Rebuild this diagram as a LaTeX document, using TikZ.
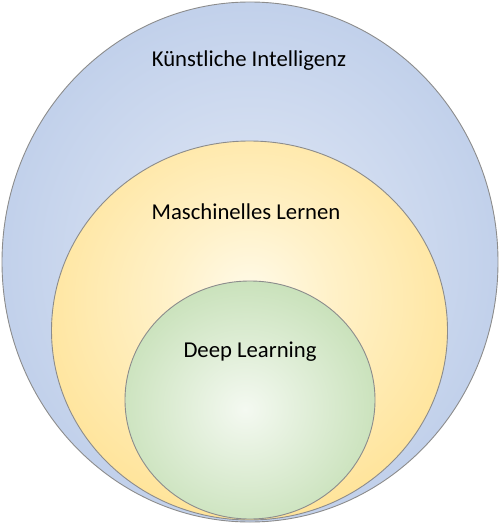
\documentclass[tikz,border=0pt]{standalone}
\usepackage{fontspec}
\setmainfont{Carlito}
\usetikzlibrary{shapes.geometric}

% soft glow from centre to rim, one per ring
\definecolor{aiRim}{RGB}{174,194,228}
\definecolor{aiCore}{RGB}{226,233,246}
\definecolor{mlRim}{RGB}{255,221,130}
\definecolor{mlCore}{RGB}{255,250,232}
\definecolor{dlRim}{RGB}{180,214,160}
\definecolor{dlCore}{RGB}{244,249,241}
\definecolor{ringLine}{RGB}{140,140,140}
\pgfdeclareradialshading{aiGlow}{\pgfpoint{0bp}{0bp}}{color(0bp)=(aiCore); color(12bp)=(aiCore!70!aiRim); color(30bp)=(aiCore!25!aiRim); color(45bp)=(aiRim); color(100bp)=(aiRim)}
\pgfdeclareradialshading{mlGlow}{\pgfpoint{0bp}{5bp}}{color(0bp)=(mlCore); color(10bp)=(mlCore!70!mlRim); color(28bp)=(mlCore!25!mlRim); color(44bp)=(mlRim); color(100bp)=(mlRim)}
\pgfdeclareradialshading{dlGlow}{\pgfpoint{-1bp}{-2bp}}{color(0bp)=(dlCore); color(10bp)=(dlCore!75!dlRim); color(30bp)=(dlCore!25!dlRim); color(46bp)=(dlRim); color(100bp)=(dlRim)}

\begin{document}
\begin{tikzpicture}[
    x=1pt, y=-1pt,
    every node/.style={font=\fontsize{22.7}{26}\selectfont},
    ring/.style={ellipse, draw=ringLine, line width=0.9pt, inner sep=0pt},
    ring label/.style={text=black, inner sep=0pt, anchor=center}
  ]
    \useasboundingbox (0,0) rectangle (500,524);

    % nested sets, outermost first
    \node[ring, shading=aiGlow, minimum width=496pt, minimum height=520pt] (aiOuter) at (250,262) {};
    \node[ring, shading=mlGlow, minimum width=396pt, minimum height=379pt] (mlMiddle) at (249.5,330.5) {};
    \node[ring, shading=dlGlow, minimum width=250pt, minimum height=238pt] (dlInner) at (250,400) {};

    \node[ring label] (aiText) at (249,61) {Künstliche Intelligenz};
    \node[ring label] (mlText) at (246,212) {Maschinelles Lernen};
    \node[ring label] (dlText) at (250,352) {Deep Learning};
  \end{tikzpicture}
\end{document}
